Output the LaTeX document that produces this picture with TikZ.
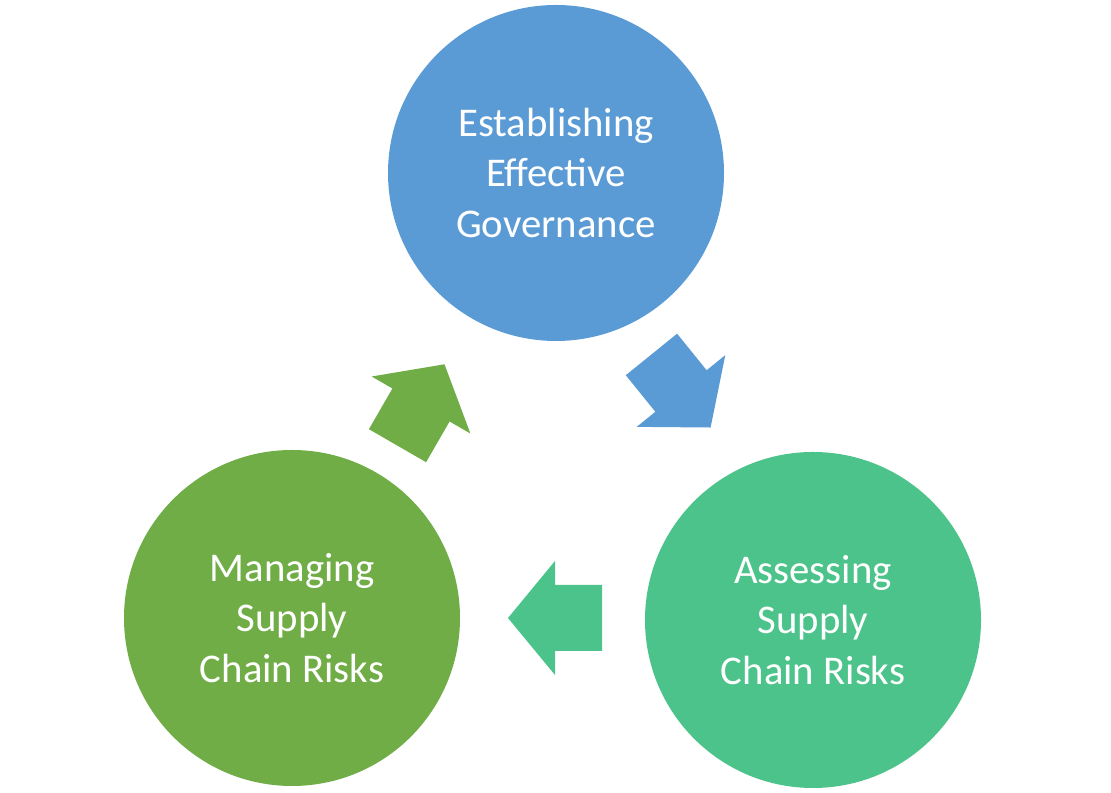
\documentclass[tikz,border=0pt]{standalone}
\usepackage{fontspec}
\setmainfont{Carlito}
\usetikzlibrary{positioning}
\definecolor{govblue}{HTML}{5B9BD5}
\definecolor{assgreen}{HTML}{4CC38A}
\definecolor{mangreen}{HTML}{70AD47}
\tikzset{
  stage/.style={circle, minimum size=336*0.025cm, inner sep=0pt, text=white,
    align=center, font=\fontsize{29}{36}\selectfont},
  blockarrow/.pic={\fill (-47,-33) -- (0,-33) -- (0,-57) -- (47,0) -- (0,57) -- (0,33) -- (-47,33) -- cycle;}
}
\begin{document}
\begin{tikzpicture}[x=0.025cm, y=0.025cm]
\useasboundingbox (0,0) rectangle (1111,793);
\node[stage, fill=govblue] (gov) at (556,620) {Establishing\\Effective\\Governance};
\node[stage, fill=assgreen] (ass) at (813,173) {Assessing\\Supply\\Chain Risks};
\node[stage, fill=mangreen] (man) at (292,175) {Managing\\Supply\\Chain Risks};
% arrows between stages
\pic[govblue, rotate=-51] at (681,402) {blockarrow};
\pic[assgreen, rotate=180] at (555,175) {blockarrow};
\pic[mangreen, rotate=60] at (421,388) {blockarrow};
\end{tikzpicture}
\end{document}
